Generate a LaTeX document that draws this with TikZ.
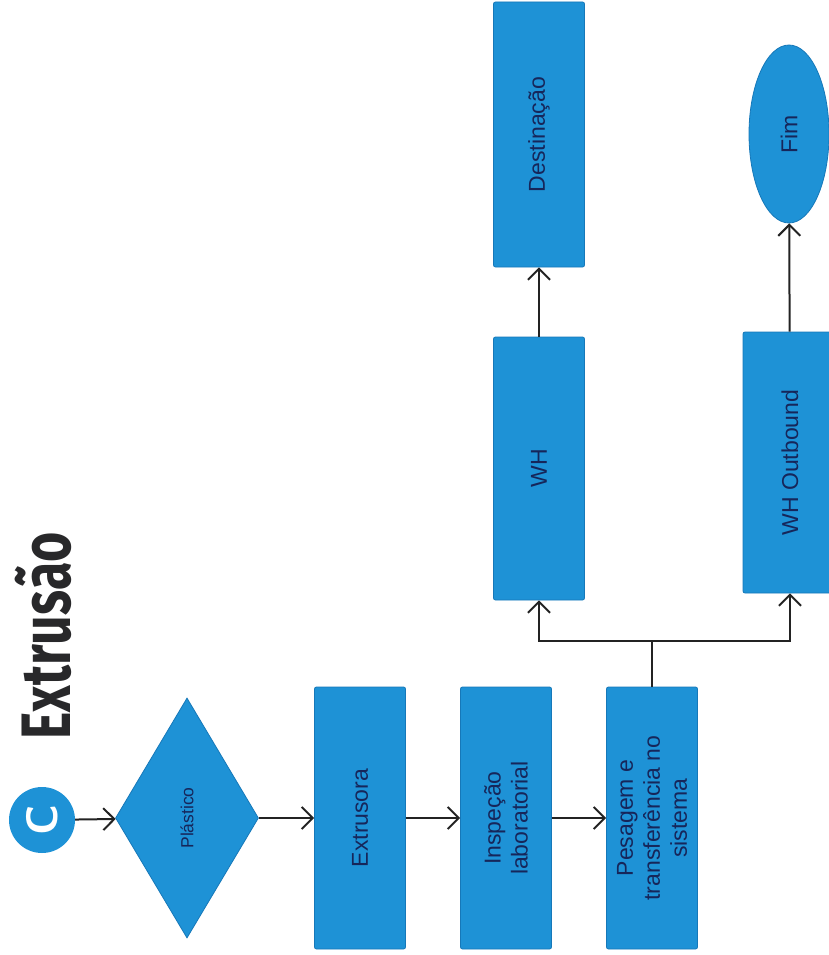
\documentclass[tikz,border=0pt]{standalone}
\usepackage{fontspec}
\setmainfont{Liberation Sans}
\newfontfamily\titlefont{Fira Sans}
\usetikzlibrary{shapes.geometric,arrows.meta}
\definecolor{boxblue}{RGB}{30,146,214}
\definecolor{boxedge}{RGB}{22,120,185}
\definecolor{txtnavy}{RGB}{22,38,90}
\definecolor{titlegray}{RGB}{40,40,42}
\definecolor{linegray}{RGB}{35,35,35}
\tikzset{
  stepbox/.style={rectangle, rounded corners=2pt, fill=boxblue, draw=boxedge, line width=0.8pt,
    rotate=90, minimum height=91pt, minimum width=262pt, inner sep=2pt, align=center,
    text=txtnavy, font=\fontsize{23}{27}\selectfont},
  arr/.style={draw=linegray, line width=2pt, -{Straight Barb[length=11pt,width=22pt,line width=2pt]}},
  plain/.style={draw=linegray, line width=2pt}
}
\begin{document}
\begin{tikzpicture}[x=1pt,y=-1pt]
\useasboundingbox (0,0) rectangle (829,955);
\clip (0,0) rectangle (829,955);
% title
\node[rotate=90, text=titlegray, inner sep=0pt] (title) at (43,636)
  {\scalebox{0.74}[1]{\titlefont\bfseries\fontsize{70}{70}\selectfont Extrusão}};
% start circle
\node[circle, fill=boxblue, minimum size=66pt, inner sep=0pt, rotate=90, text=white,
  font=\sffamily\bfseries\fontsize{44}{44}\selectfont] (circ) at (42,820) {C};
% diamond
\node[diamond, fill=boxblue, draw=boxedge, line width=0.8pt, rotate=90, minimum width=240pt,
  minimum height=143pt, inner sep=0pt, text=txtnavy, font=\fontsize{17.5}{20}\selectfont] (plast) at (187,818) {Plástico};
% main row
\node[stepbox] (extr) at (360,818) {Extrusora};
\node[stepbox] (insp) at (506,818) {Inspeção\\laboratorial};
\node[stepbox] (pes) at (652,818) {Pesagem e\\transferência no\\sistema};
% upper row
\node[stepbox, minimum width=263pt] (wh) at (539,468.5) {WH};
\node[stepbox, minimum width=265pt] (dest) at (539,134.5) {Destinação};
\node[stepbox, minimum height=94pt, minimum width=261pt] (who) at (790,462.5) {WH Outbound};
\node[ellipse, fill=boxblue, draw=boxedge, line width=0.8pt, rotate=90, minimum width=178pt,
  minimum height=80pt, inner sep=0pt, text=txtnavy, font=\fontsize{23}{27}\selectfont] (fim) at (789,134) {Fim};
% connectors
\draw[arr] (circ) -- (plast);
\draw[arr] (plast) -- (extr);
\draw[arr] (extr) -- (insp);
\draw[arr] (insp) -- (pes);
\coordinate (br) at (652,641);
\draw[plain] (pes) -- (br);
\draw[arr] (br) -| (wh);
\draw[arr] (br) -| (who);
\draw[arr] (wh) -- (dest);
\draw[arr] (who) -- (fim);
\end{tikzpicture}
\end{document}
